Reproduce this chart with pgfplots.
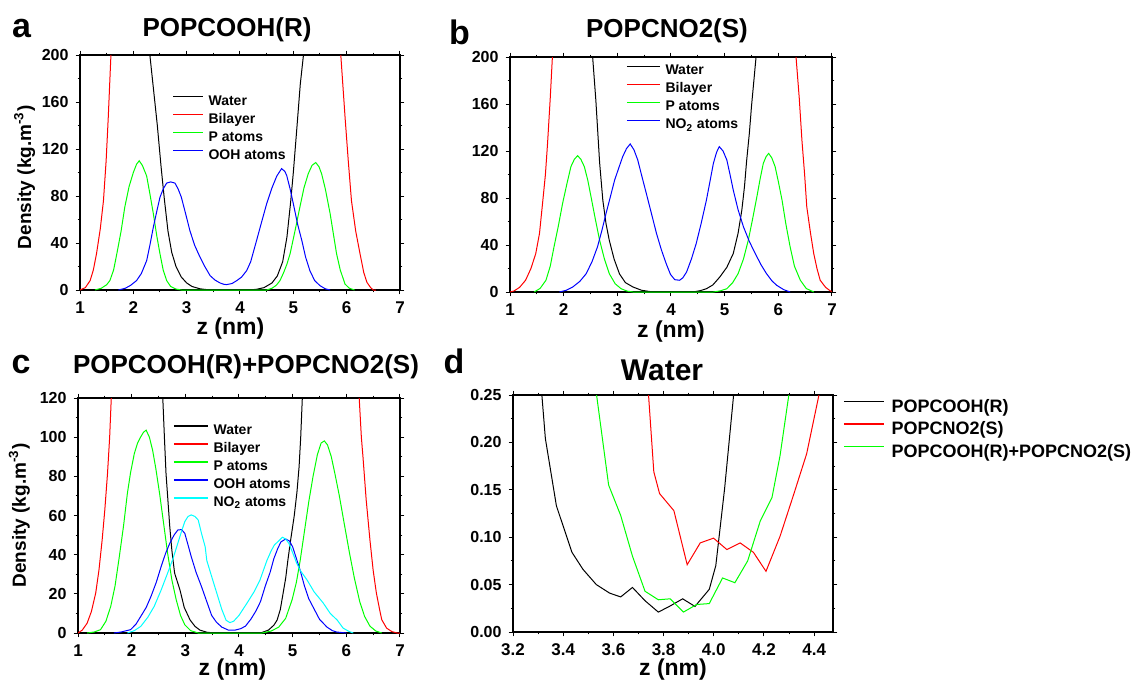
\documentclass[border=0pt]{standalone}
\usepackage{fontspec}
\setmainfont{Liberation Sans}
\usepackage{pgfplots}
\pgfplotsset{compat=1.18}
\definecolor{aqua}{RGB}{0,255,255}
\definecolor{lime}{RGB}{0,255,0}

\pgfplotsset{
  panel/.style={
    scale only axis,
    anchor=south west,
    axis line style={line width=0.6pt},
    every tick/.style={black,line width=0.5pt},
    tick align=outside,
    major tick length=2.2pt,minor tick length=1.2pt,
    minor x tick num=1,minor y tick num=1,
    /pgf/number format/assume math mode=true,
    tick label style={font=\bfseries\fontsize{8}{9}\selectfont},
    x tick label style={font=\bfseries\fontsize{8.5}{10}\selectfont},
    label style={font=\bfseries\fontsize{11.5}{13}\selectfont},
    ylabel style={font=\bfseries\fontsize{9.5}{11}\selectfont},
    every axis plot/.append style={line width=0.5pt,no markers},
    legend cell align=left,
    legend style={draw=none,fill=none,inner sep=0pt,anchor=north west,
      font=\bfseries\fontsize{7}{8}\selectfont,row sep=3pt,
      nodes={inner sep=0pt,text height=5pt,text depth=1pt},
      /tikz/every odd column/.append style={column sep=2.5pt}},
  },
  dens/.style={panel,width=160pt,height=117.5pt,xmin=1,xmax=7,ymin=0,
    xtick={1,2,...,7}},
}

\begin{document}
\begin{tikzpicture}

% a
\begin{axis}[dens,at={(40pt,196pt)},ymax=200,ytick={0,40,...,200},
  xlabel={z (nm)},ylabel={Density (kg.m\textsuperscript{-3})},
  xlabel style={at={(axis description cs:0.47,-0.166)},anchor=center},
  ylabel style={at={(axis description cs:-0.173,0.48)},anchor=center},
  legend style={at={(0.2875,0.831)}},
  legend image code/.code={\draw[#1,line width=0.6pt] (0pt,2.2pt) -- (15pt,2.2pt);}]
\addplot[black] coordinates {(2.2,400) (2.31,200) (2.38,170) (2.45,140) (2.52,105) (2.58,78) (2.65,50) (2.72,32) (2.8,20) (2.9,11) (3.0,6) (3.1,3) (3.25,1) (3.4,0.2) (3.6,0) (4.1,0) (4.3,0.5) (4.45,2) (4.6,6) (4.7,12) (4.8,24) (4.88,45) (4.95,75) (5.0,100) (5.07,140) (5.13,175) (5.19,200) (5.3,400)};
\addlegendentry{Water}
\addplot[red] coordinates {(1.0,0) (1.1,2) (1.19,8) (1.25,17) (1.31,31) (1.38,52) (1.44,76) (1.49,110) (1.53,147) (1.58,200) (1.7,500) (5.8,500) (5.89,200) (5.97,147) (6.03,110) (6.09,76) (6.17,50) (6.25,31) (6.32,15) (6.38,6.5) (6.45,2) (6.5,0) (6.55,0)};
\addlegendentry{Bilayer}
\addplot[lime] coordinates {(1.28,0) (1.4,1.5) (1.5,4.5) (1.56,8) (1.63,17) (1.69,30.7) (1.77,50) (1.84,70.6) (1.92,88) (2.0,100) (2.06,107) (2.11,110) (2.17,106) (2.25,97) (2.31,82) (2.375,65) (2.44,46) (2.5,30.7) (2.56,17) (2.625,8) (2.7,3) (2.8,0.8) (2.9,0) (4.5,0) (4.6,1.5) (4.68,4) (4.75,8) (4.82,15) (4.88,22) (4.94,31) (5.03,50) (5.125,71) (5.2,87) (5.28,99) (5.35,106) (5.42,108.5) (5.48,105) (5.53,99) (5.6,86) (5.69,65) (5.75,48) (5.81,31) (5.88,17) (5.97,5) (6.05,1.5) (6.15,0)};
\addlegendentry{P atoms}
\addplot[blue] coordinates {(1.72,0) (1.85,1.5) (1.95,4) (2.06,8) (2.15,14) (2.25,25) (2.31,38) (2.375,53.5) (2.44,67) (2.5,79) (2.56,86) (2.625,91) (2.7,92) (2.78,91) (2.84,86) (2.9,79) (2.98,65) (3.06,50.6) (3.15,38) (3.25,28) (3.34,20) (3.44,12.2) (3.53,8.5) (3.625,6) (3.7,4.8) (3.75,4.6) (3.85,5.5) (3.94,8) (4.03,11) (4.125,16.5) (4.2,24) (4.31,42) (4.4,57) (4.5,73.4) (4.6,87) (4.69,97) (4.78,103.3) (4.84,101) (4.875,97.6) (4.94,86) (5.0,73.4) (5.08,56) (5.16,42) (5.23,28) (5.31,16.5) (5.4,8) (5.5,3.7) (5.6,1) (5.69,0)};
\addlegendentry{OOH atoms}
\end{axis}

% b
\begin{axis}[dens,at={(255pt,195pt)},width=161pt,ymax=200,ytick={0,40,...,200},
  xlabel={z (nm)},
  xlabel style={at={(axis description cs:0.5,-0.17)},anchor=center},
  legend style={at={(0.36,0.968)}},
  legend image code/.code={\draw[#1,line width=0.6pt] (0pt,2.2pt) -- (16.5pt,2.2pt);}]
\addplot[black] coordinates {(2.45,400) (2.54,200) (2.6,163) (2.67,110) (2.73,78) (2.79,58) (2.85,44) (2.94,28) (3.04,15.4) (3.15,8) (3.29,4.3) (3.45,1.5) (3.66,0) (4.41,0) (4.55,1.2) (4.66,2.8) (4.78,6) (4.91,12.8) (5.04,21) (5.16,32.7) (5.25,50) (5.32,69.7) (5.37,90) (5.41,112) (5.46,135) (5.5,158) (5.585,200) (5.7,400)};
\addplot[red] coordinates {(1.0,0) (1.075,0.9) (1.18,4) (1.29,10) (1.39,20) (1.48,32.7) (1.55,50) (1.6,72.5) (1.66,100) (1.70,126.6) (1.75,165) (1.79,200) (1.9,500) (6.2,500) (6.33,200) (6.39,165) (6.44,129) (6.49,100) (6.53,72.5) (6.6,50) (6.66,32.7) (6.72,20) (6.78,10) (6.88,4) (6.97,0.9) (7,0.5)};
\addplot[lime] coordinates {(1.45,0) (1.56,3) (1.67,10) (1.75,22) (1.82,38.4) (1.9,56) (1.98,75.4) (2.06,92) (2.135,106.7) (2.2,113) (2.26,116) (2.32,113) (2.385,106.7) (2.45,95) (2.51,81) (2.59,62) (2.67,44) (2.76,28) (2.85,15.6) (2.96,7) (3.07,2.8) (3.18,0.8) (3.29,0) (4.79,0) (4.92,1) (5.04,2.8) (5.15,8) (5.25,15.6) (5.35,28) (5.44,44) (5.52,62) (5.6,81) (5.66,96) (5.72,109.5) (5.77,115) (5.82,118) (5.88,114) (5.94,106.7) (6.0,94) (6.07,78) (6.14,58) (6.22,38.4) (6.3,22) (6.41,10) (6.52,3) (6.66,0)};
\addplot[blue] coordinates {(1.92,0) (2.05,1.5) (2.17,4.3) (2.3,9) (2.42,15.6) (2.53,26) (2.63,38.4) (2.71,52) (2.79,66.9) (2.87,81) (2.95,95.3) (3.03,106) (3.1,115.2) (3.17,122) (3.24,126) (3.31,121) (3.38,112.4) (3.46,98) (3.54,83.9) (3.64,66) (3.73,49.8) (3.82,36) (3.91,24.2) (3.99,15) (4.07,10.5) (4.16,10) (4.22,12) (4.29,17) (4.38,28) (4.47,41.3) (4.56,58) (4.66,78.2) (4.73,95) (4.79,109.5) (4.85,119) (4.90,123.7) (4.97,120) (5.04,112.4) (5.1,100) (5.16,86.8) (5.25,70) (5.35,55.5) (5.46,43) (5.57,32.7) (5.68,23) (5.78,15.6) (5.88,9.5) (5.97,5.7) (6.1,2) (6.22,0)};
\legend{Water,Bilayer,P atoms,NO\textsubscript{2} atoms}
\end{axis}

% c
\begin{axis}[dens,at={(39pt,24.5pt)},width=161pt,ymax=120,ytick={0,20,...,120},
  xlabel={z (nm)},ylabel={Density (kg.m\textsuperscript{-3})},
  xlabel style={at={(axis description cs:0.48,-0.157)},anchor=center},
  ylabel style={at={(axis description cs:-0.182,0.5)},anchor=center},
  legend style={at={(0.295,0.889)}},
  legend image code/.code={\draw[#1,line width=0.6pt] (0pt,2.2pt) -- (17pt,2.2pt);}]
\addplot[black] coordinates {(2.5,250) (2.58,120) (2.61,100) (2.64,81.5) (2.68,66) (2.71,54.3) (2.75,42) (2.80,30.6) (2.90,22) (2.98,13) (3.09,6.6) (3.18,3.4) (3.27,1.5) (3.4,0.4) (3.55,0) (4.4,0) (4.55,1.5) (4.65,4) (4.71,6.6) (4.77,12) (4.82,20) (4.87,28) (4.91,37) (4.96,47) (5.03,60) (5.08,72) (5.12,85) (5.15,100) (5.18,120) (5.25,250)};
\addplot[red] coordinates {(1.0,0) (1.08,1.5) (1.17,5) (1.25,11) (1.33,20.4) (1.39,32) (1.45,47.5) (1.5,63) (1.55,81.5) (1.59,100) (1.62,120) (1.7,300) (6.15,300) (6.24,120) (6.28,100) (6.31,90) (6.37,68) (6.44,47.5) (6.5,32) (6.56,20.4) (6.62,12) (6.66,6.8) (6.75,2.5) (6.85,0.7) (6.95,0) (7,0)};
\addplot[lime] coordinates {(1.17,0) (1.3,0.5) (1.42,1.7) (1.52,6) (1.61,13.6) (1.69,24) (1.77,39) (1.85,55) (1.92,71.3) (1.98,82) (2.05,91.7) (2.11,97) (2.17,100.2) (2.22,102.5) (2.27,103.6) (2.33,100) (2.39,93.4) (2.45,84) (2.52,71.3) (2.6,55) (2.67,40.7) (2.75,27) (2.83,17) (2.91,9) (2.99,4.2) (3.1,1.2) (3.24,0) (4.43,0) (4.6,1) (4.74,3) (4.87,7.5) (4.99,17) (5.07,26) (5.14,37) (5.22,52) (5.3,67) (5.38,80) (5.46,91) (5.53,97) (5.59,98.1) (5.65,96) (5.72,90) (5.79,81) (5.87,70) (5.96,56) (6.06,40.7) (6.15,28) (6.25,16) (6.34,8.5) (6.44,3.5) (6.55,1) (6.66,0)};
\addplot[blue] coordinates {(1.67,0) (1.8,0.5) (1.98,1.7) (2.08,4.5) (2.17,8.5) (2.27,13) (2.36,18.7) (2.46,26) (2.55,34) (2.63,40.5) (2.71,45.8) (2.79,50) (2.86,52.6) (2.93,52.8) (2.99,50.9) (3.05,45) (3.11,39) (3.2,31) (3.30,23.8) (3.4,16) (3.49,9) (3.58,5.5) (3.68,3) (3.8,1.5) (3.93,1.5) (4.03,2.2) (4.12,3.5) (4.22,7) (4.31,11) (4.4,16) (4.49,24) (4.58,31) (4.65,38) (4.72,43) (4.78,46.5) (4.87,48) (4.94,47) (5.0,44) (5.07,38) (5.14,32) (5.22,24) (5.3,17.5) (5.38,13.3) (5.5,7) (5.64,3) (5.74,1.2) (5.82,0.5) (6.0,0)};
\addplot[aqua] coordinates {(1.92,0) (2.05,1.2) (2.17,3.4) (2.3,8) (2.42,13.6) (2.55,22) (2.67,30.6) (2.77,38) (2.86,45.8) (2.93,52) (2.99,56.9) (3.05,59.5) (3.11,60.3) (3.18,59.5) (3.24,57.7) (3.3,51) (3.37,44) (3.40,37) (3.5,28) (3.59,20) (3.68,12) (3.76,6.5) (3.83,5.3) (3.9,6) (4.0,9) (4.15,15.3) (4.28,21) (4.39,27) (4.52,37) (4.6,42) (4.66,45) (4.72,46.5) (4.81,48.9) (4.87,48) (4.93,45.8) (5.0,41) (5.07,36) (5.14,32) (5.27,27) (5.4,21) (5.57,15.3) (5.7,10) (5.83,6.6) (5.94,2.5) (6.05,0.8) (6.13,0)};
\legend{Water,Bilayer,P atoms,OOH atoms,NO\textsubscript{2} atoms}
\end{axis}

% d
\begin{axis}[panel,at={(256.5pt,25pt)},width=160pt,height=118.5pt,
  xmin=3.2,xmax=4.475,ymin=0,ymax=0.25,
  xtick={3.2,3.4,...,4.4},ytick={0,0.05,0.10,0.15,0.20,0.25},
  scaled ticks=false,
  xticklabel style={/pgf/number format/.cd,fixed,fixed zerofill,precision=1},
  yticklabel style={/pgf/number format/.cd,fixed,fixed zerofill,precision=2},
  xlabel={z (nm)},
  xlabel style={at={(axis description cs:0.5,-0.16)},anchor=center},
  legend style={at={(1.031,0.984)},font=\bfseries\fontsize{9}{10}\selectfont,
    row sep=2.85pt,nodes={inner sep=0pt,text height=6.5pt,text depth=2pt},
    /tikz/every odd column/.append style={column sep=3.5pt}},
  legend image code/.code={\draw[#1,line width=0.6pt] (0pt,3.2pt) -- (20pt,3.2pt);}]
\addplot[black] coordinates {(3.30,0.32) (3.315,0.25) (3.329,0.204) (3.373,0.133) (3.435,0.084) (3.479,0.066) (3.532,0.050) (3.585,0.041) (3.629,0.037) (3.676,0.047) (3.726,0.033) (3.779,0.021) (3.823,0.027) (3.876,0.035) (3.925,0.027) (3.982,0.045) (4.008,0.070) (4.043,0.151) (4.079,0.25) (4.09,0.32)};
\addplot[red] coordinates {(3.73,0.32) (3.74,0.25) (3.761,0.169) (3.784,0.146) (3.841,0.128) (3.894,0.071) (3.946,0.094) (3.999,0.099) (4.052,0.087) (4.105,0.094) (4.158,0.084) (4.208,0.064) (4.264,0.101) (4.317,0.144) (4.37,0.188) (4.419,0.25) (4.44,0.32)};
\addplot[lime] coordinates {(3.52,0.32) (3.533,0.25) (3.581,0.155) (3.629,0.123) (3.676,0.080) (3.726,0.043) (3.779,0.034) (3.826,0.035) (3.879,0.021) (3.932,0.029) (3.982,0.030) (4.035,0.057) (4.084,0.052) (4.135,0.075) (4.185,0.117) (4.232,0.142) (4.264,0.186) (4.299,0.25) (4.31,0.32)};
\legend{POPCOOH(R),POPCNO2(S),POPCOOH(R)+POPCNO2(S)}
\end{axis}

% titles and panel letters
\node[font=\bfseries\fontsize{17}{20}\selectfont,anchor=base] at (10.75pt,322.5pt) {a};
\node[font=\bfseries\fontsize{17}{20}\selectfont,anchor=base] at (229.75pt,319pt) {b};
\node[font=\bfseries\fontsize{17}{20}\selectfont,anchor=base] at (10.5pt,154.5pt) {c};
\node[font=\bfseries\fontsize{17}{20}\selectfont,anchor=base] at (227pt,154.5pt) {d};
\node[font=\bfseries\fontsize{13}{15}\selectfont,anchor=base] at (113.5pt,323pt) {POPCOOH(R)};
\node[font=\bfseries\fontsize{13}{15}\selectfont,anchor=base] at (333.5pt,322.4pt) {POPCNO2(S)};
\node[font=\bfseries\fontsize{13}{15}\selectfont,anchor=base] at (123pt,154.5pt) {POPCOOH(R)+POPCNO2(S)};
\node[font=\bfseries\fontsize{15}{17}\selectfont,anchor=base] at (331pt,151pt) {Water};

\pgfresetboundingbox
\path (0pt,0pt) rectangle (565.5pt,341pt);
\end{tikzpicture}
\end{document}
